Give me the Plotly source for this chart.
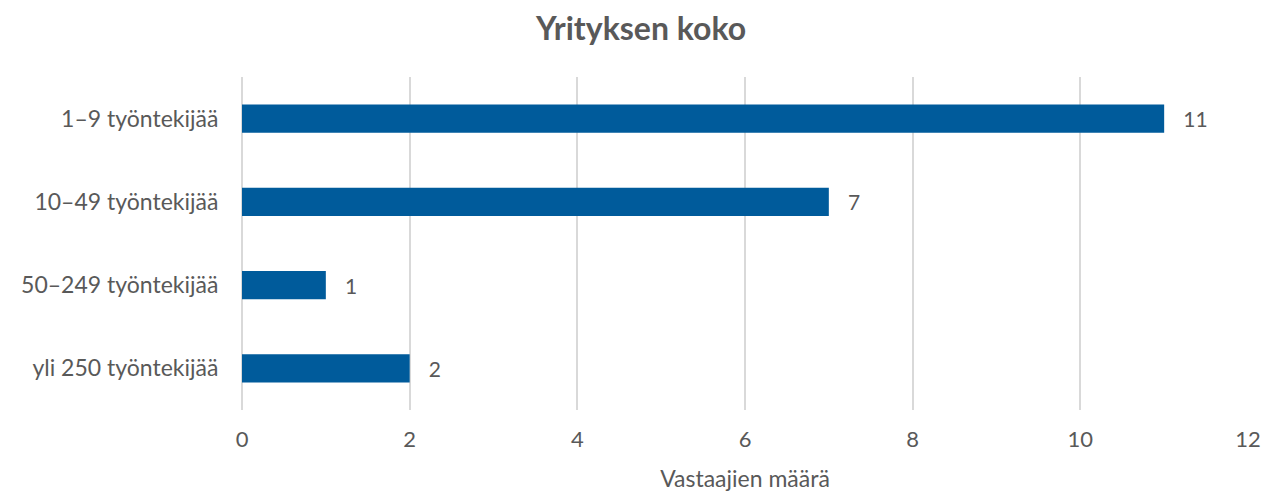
import plotly.graph_objects as go

categories = ["1–9 työntekijää", "10–49 työntekijää", "50–249 työntekijää", "yli 250 työntekijää"]
values = [11, 7, 1, 2]
x_ticks = [0, 2, 4, 6, 8, 10, 12]

FONT = "Lato"
GREY = "#595959"

fig = go.Figure(go.Bar(
    y=categories, x=values, orientation="h",
    marker=dict(color="#005B9B", line=dict(width=0)),
    texttemplate="   %{x}", textposition="outside",
    textfont=dict(family=FONT, size=21, color=GREY),
    cliponaxis=False, width=0.34,
))

# page body has an 8px default margin, so the figure is offset by (8, 8)
fig.update_layout(
    width=1264, height=485,
    margin=dict(l=234, r=24, t=69, b=83),
    paper_bgcolor="white", plot_bgcolor="white",
    title=dict(text="<b>Yrityksen koko</b>", x=(641 - 8) / 1264, xanchor="center",
               y=1 - 21 / 485, yanchor="middle",
               font=dict(family=FONT, size=32, color=GREY)),
    showlegend=False,
    font=dict(family=FONT, color=GREY),
)
fig.update_xaxes(range=[0, 12], tickvals=x_ticks, showgrid=True, gridcolor="#D9D9D9", gridwidth=1.5,
                 zeroline=True, zerolinecolor="#D9D9D9", zerolinewidth=1.5,
                 tickfont=dict(family=FONT, size=22, color=GREY), ticks="outside", ticklen=10,
                 tickcolor="rgba(0,0,0,0)", showline=False, automargin=False,
                 title=dict(text="Vastaajien määrä", font=dict(family=FONT, size=23, color=GREY), standoff=19))
fig.update_yaxes(autorange="reversed", tickfont=dict(family=FONT, size=23, color=GREY),
                 ticks="outside", ticklen=18, tickcolor="rgba(0,0,0,0)", showgrid=False, automargin=False)

fig.write_html("out.html")
